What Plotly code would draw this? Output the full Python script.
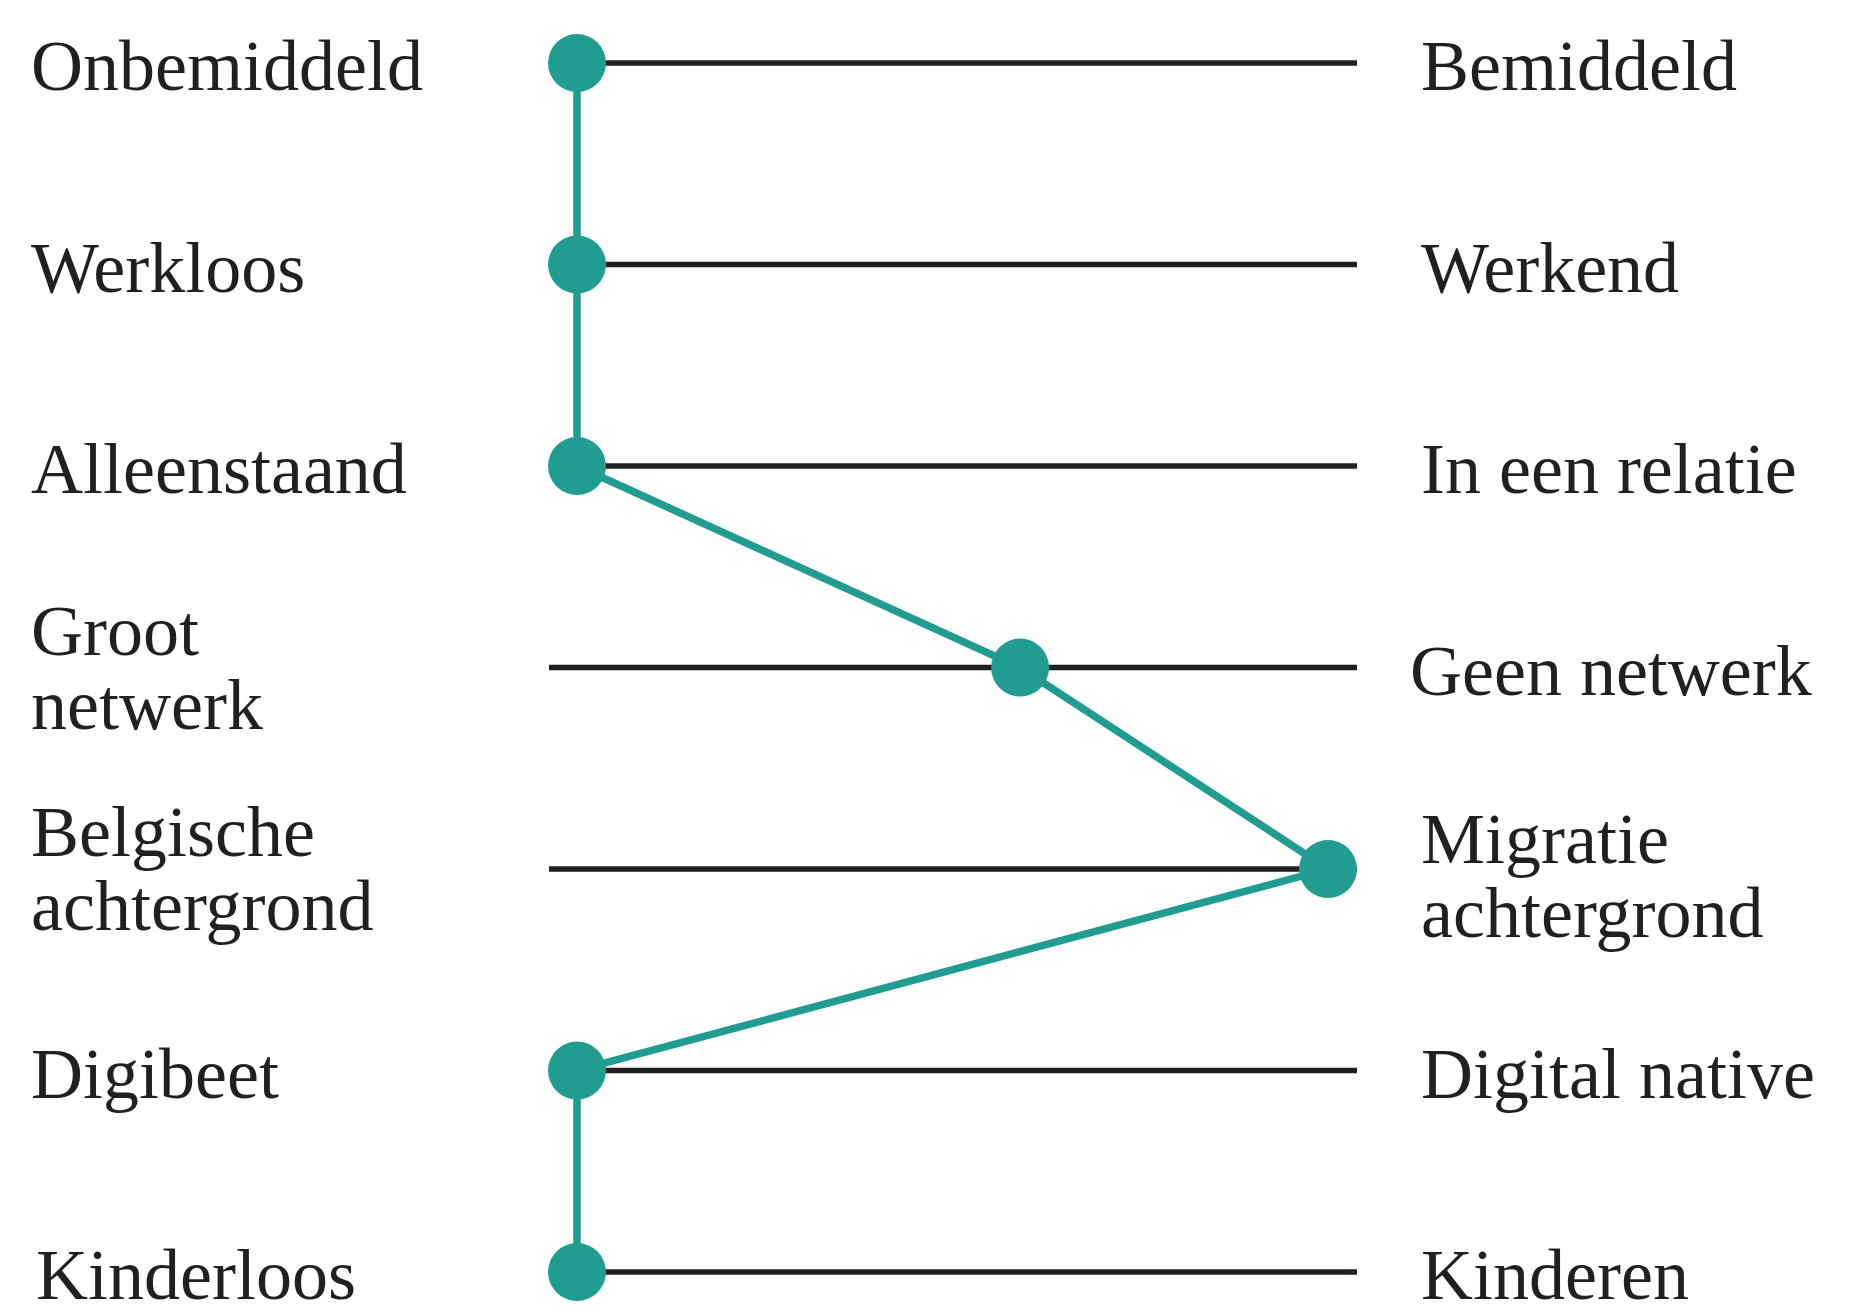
import plotly.graph_objects as go

# ---- data ----
left_labels = ["Onbemiddeld", "Werkloos", "Alleenstaand", "Groot<br>netwerk",
               "Belgische<br>achtergrond", "Digibeet", "Kinderloos"]
right_labels = ["Bemiddeld", "Werkend", "In een relatie", "Geen netwerk",
                "Migratie<br>achtergrond", "Digital native", "Kinderen"]
# position on each spectrum: 0 = left pole, 1 = right pole
positions = [0, 0, 0, 0.59, 1, 0, 0]
rows = list(range(len(left_labels)))

# ---- style ----
PAGE_MARGIN = 8                    # default html body margin
W, H = 1866 - 2 * PAGE_MARGIN, 1312 - 2 * PAGE_MARGIN
TEAL = "#219c91"
DARK = "#231f20"
FONT = "Liberation Serif"
FS = 72

def px(p):
    return p - PAGE_MARGIN

PX_X0, PX_X1 = px(577), px(1328)   # pixel of value 0 and 1
PX_Y0, PX_STEP = px(63), 201.5     # pixel of first row and row step
ux = PX_X1 - PX_X0
x_range = [-PX_X0 / ux, (W - PX_X0) / ux]
y_range = [(H - PX_Y0) / PX_STEP, -PX_Y0 / PX_STEP]
LINE_X0 = (px(549) - PX_X0) / ux
LINE_X1 = (px(1357) - PX_X0) / ux
LEFT_X = px(29) / W
RIGHT_X = px(1419) / W
left_dx = {6: 5}
right_dx = {3: -11}
right_dy = {4: 7}
LINE_GAP = 37

fig = go.Figure()

# black spectrum lines
lx, ly = [], []
for r in rows:
    lx += [LINE_X0, LINE_X1, None]
    ly += [r, r, None]
fig.add_trace(go.Scatter(x=lx, y=ly, mode="lines",
                         line=dict(color=DARK, width=5.5),
                         hoverinfo="skip", showlegend=False))

# teal profile
fig.add_trace(go.Scatter(x=positions, y=rows, mode="lines+markers",
                         line=dict(color=TEAL, width=7.5),
                         marker=dict(color=TEAL, size=58, line=dict(width=0)),
                         cliponaxis=False, showlegend=False))

def add_label(text, xpaper, row, dx=0, dy=0):
    parts = text.split("<br>")
    n = len(parts)
    for i, p in enumerate(parts):
        off = (i - (n - 1) / 2) * 2 * LINE_GAP if n > 1 else 0
        fig.add_annotation(x=xpaper, xref="paper", y=row, yref="y",
                           text=p, showarrow=False, xanchor="left", yanchor="middle",
                           xshift=dx, yshift=-(off + dy + (3 if n == 1 else 0)),
                           font=dict(family=FONT, size=FS, color=DARK))

for r in rows:
    add_label(left_labels[r], LEFT_X, r, dx=left_dx.get(r, 0))
    add_label(right_labels[r], RIGHT_X, r, dx=right_dx.get(r, 0), dy=right_dy.get(r, 0))

fig.update_layout(
    width=W, height=H,
    margin=dict(l=0, r=0, t=0, b=0),
    paper_bgcolor="white", plot_bgcolor="white",
    xaxis=dict(range=x_range, visible=False, fixedrange=True),
    yaxis=dict(range=y_range, visible=False, fixedrange=True),
    showlegend=False,
)

fig.write_html("out.html", config={"displayModeBar": False})
